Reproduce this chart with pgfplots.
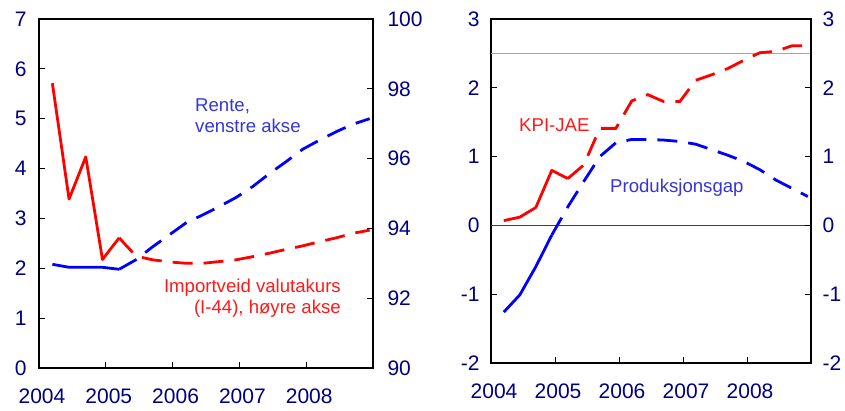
\documentclass[border=0pt]{standalone}
\usepackage{fontspec}
\setmainfont{Liberation Sans}
\usepackage{pgfplots}
\pgfplotsset{compat=1.18}
\definecolor{navy}{HTML}{000080}
\definecolor{lblue}{HTML}{3535D8}
\definecolor{lred}{HTML}{FF1A1A}
\newcommand\tickfont{\fontsize{21}{25}\selectfont}
\newcommand\annfont{\fontsize{18.6}{22}\selectfont}
\pgfplotsset{
  base/.style={scale only axis, anchor=south west, xmin=2004, xmax=2009,
    axis line style={line width=1.6pt, black},
    major tick style={line width=0.9pt, black}, major tick length=6pt,
    tick label style={font=\tickfont, text=navy}},
  sol/.style={line width=2.8pt, line join=round},
  dsh/.style={line width=2.8pt, dash pattern=on 20pt off 11pt},
}
\begin{document}
\begin{tikzpicture}
\path[use as bounding box] (0pt,0pt) rectangle (845pt,410pt);
% ---------- left panel, left axis ----------
\begin{axis}[base, at={(39pt,42pt)}, width=334pt, height=349pt,
  ymin=0, ymax=7, ytick={0,1,...,7}, yticklabels={0,1,2,3,4,5,6,7},
  ytick pos=left, xtick pos=bottom,
  xtick={2004,2005,2006,2007,2008}, xticklabels={2004,2005,2006,2007,2008},
  yticklabel style={xshift=-9pt},
  xticklabel style={yshift=-17pt, xshift=3pt}]
\addplot[blue, sol] coordinates {(2004.2,2.08) (2004.45,2.02) (2004.7,2.02) (2004.95,2.02) (2005.2,1.98)};
\addplot[blue, dsh] coordinates {(2005.2,1.98) (2005.45,2.17) (2005.7,2.43) (2005.95,2.67) (2006.2,2.91) (2006.45,3.07) (2006.7,3.24) (2006.95,3.42) (2007.2,3.64) (2007.45,3.90) (2007.7,4.14) (2007.95,4.39) (2008.2,4.57) (2008.45,4.74) (2008.7,4.89) (2008.95,5.00)};
\end{axis}
% ---------- left panel, right axis ----------
\begin{axis}[base, at={(39pt,42pt)}, width=334pt, height=349pt,
  ymin=90, ymax=100, ytick={90,92,...,100}, yticklabels={90,92,94,96,98,100},
  axis x line=none, axis y line*=right,
  yticklabel style={xshift=11pt}]
\addplot[red, sol] coordinates {(2004.2,98.16) (2004.45,94.84) (2004.7,96.05) (2004.95,93.11) (2005.2,93.73)};
\addplot[red, dsh] coordinates {(2005.2,93.73) (2005.45,93.21) (2005.7,93.10) (2005.95,93.04) (2006.2,93.00) (2006.45,93.00) (2006.7,93.05) (2006.95,93.10) (2007.2,93.19) (2007.45,93.29) (2007.7,93.40) (2007.95,93.50) (2008.2,93.62) (2008.45,93.73) (2008.7,93.86) (2008.95,93.95)};
\end{axis}
% ---------- right panel, left axis ----------
\begin{axis}[base, at={(491pt,47pt)}, width=320pt, height=344pt,
  ymin=-2, ymax=3, ytick={-2,-1,...,3}, yticklabels={-2,-1,0,1,2,3},
  ytick pos=left, xtick pos=bottom,
  xtick={2004,2005,2006,2007,2008}, xticklabels={2004,2005,2006,2007,2008},
  yticklabel style={xshift=-8pt},
  xticklabel style={yshift=-17pt, xshift=3pt}]
\addplot[gray!70, line width=0.9pt] coordinates {(2004,2.5) (2009,2.5)};
\addplot[black!75, line width=1.1pt] coordinates {(2004,0) (2009,0)};
\addplot[red, sol] coordinates {(2004.2,0.07) (2004.45,0.12) (2004.7,0.26) (2004.95,0.80) (2005.2,0.68)};
\addplot[red, dsh] coordinates {(2005.2,0.68) (2005.45,0.88) (2005.7,1.41) (2005.95,1.41) (2006.2,1.81) (2006.45,1.90) (2006.7,1.80) (2006.95,1.80) (2007.2,2.11) (2007.45,2.19) (2007.7,2.28) (2007.95,2.40) (2008.2,2.51) (2008.45,2.53) (2008.7,2.61) (2008.95,2.61)};
\addplot[blue, sol] coordinates {(2004.2,-1.26) (2004.45,-1.01) (2004.7,-0.60) (2004.95,-0.14)};
\addplot[blue, dsh] coordinates {(2004.95,-0.14) (2005.2,0.27) (2005.45,0.64) (2005.7,1.00) (2005.95,1.20) (2006.2,1.25) (2006.45,1.25) (2006.7,1.24) (2006.95,1.22) (2007.2,1.18) (2007.45,1.10) (2007.7,1.02) (2007.95,0.93) (2008.2,0.81) (2008.45,0.66) (2008.7,0.54) (2008.95,0.42)};
\end{axis}
% ---------- right panel, right axis ----------
\begin{axis}[base, at={(491pt,47pt)}, width=320pt, height=344pt,
  ymin=-2, ymax=3, ytick={-2,-1,...,3}, yticklabels={-2,-1,0,1,2,3},
  axis x line=none, axis y line*=right,
  yticklabel style={xshift=8pt}]
\end{axis}
% ---------- annotations ----------
\node[anchor=base west, inner sep=0pt, text=lblue, font=\annfont] at (195pt,298pt) {Rente,};
\node[anchor=base west, inner sep=0pt, text=lblue, font=\annfont] at (195pt,277pt) {venstre akse};
\node[anchor=base east, inner sep=0pt, text=lred, font=\annfont] at (341pt,118pt) {Importveid valutakurs};
\node[anchor=base east, inner sep=0pt, text=lred, font=\annfont] at (341pt,97pt) {(I-44), høyre akse};
\node[anchor=base west, inner sep=0pt, text=lred, font=\annfont] at (519pt,278pt) {KPI-JAE};
\node[anchor=base west, inner sep=0pt, text=lblue, font=\annfont] at (610pt,217pt) {Produksjonsgap};
\end{tikzpicture}
\end{document}
